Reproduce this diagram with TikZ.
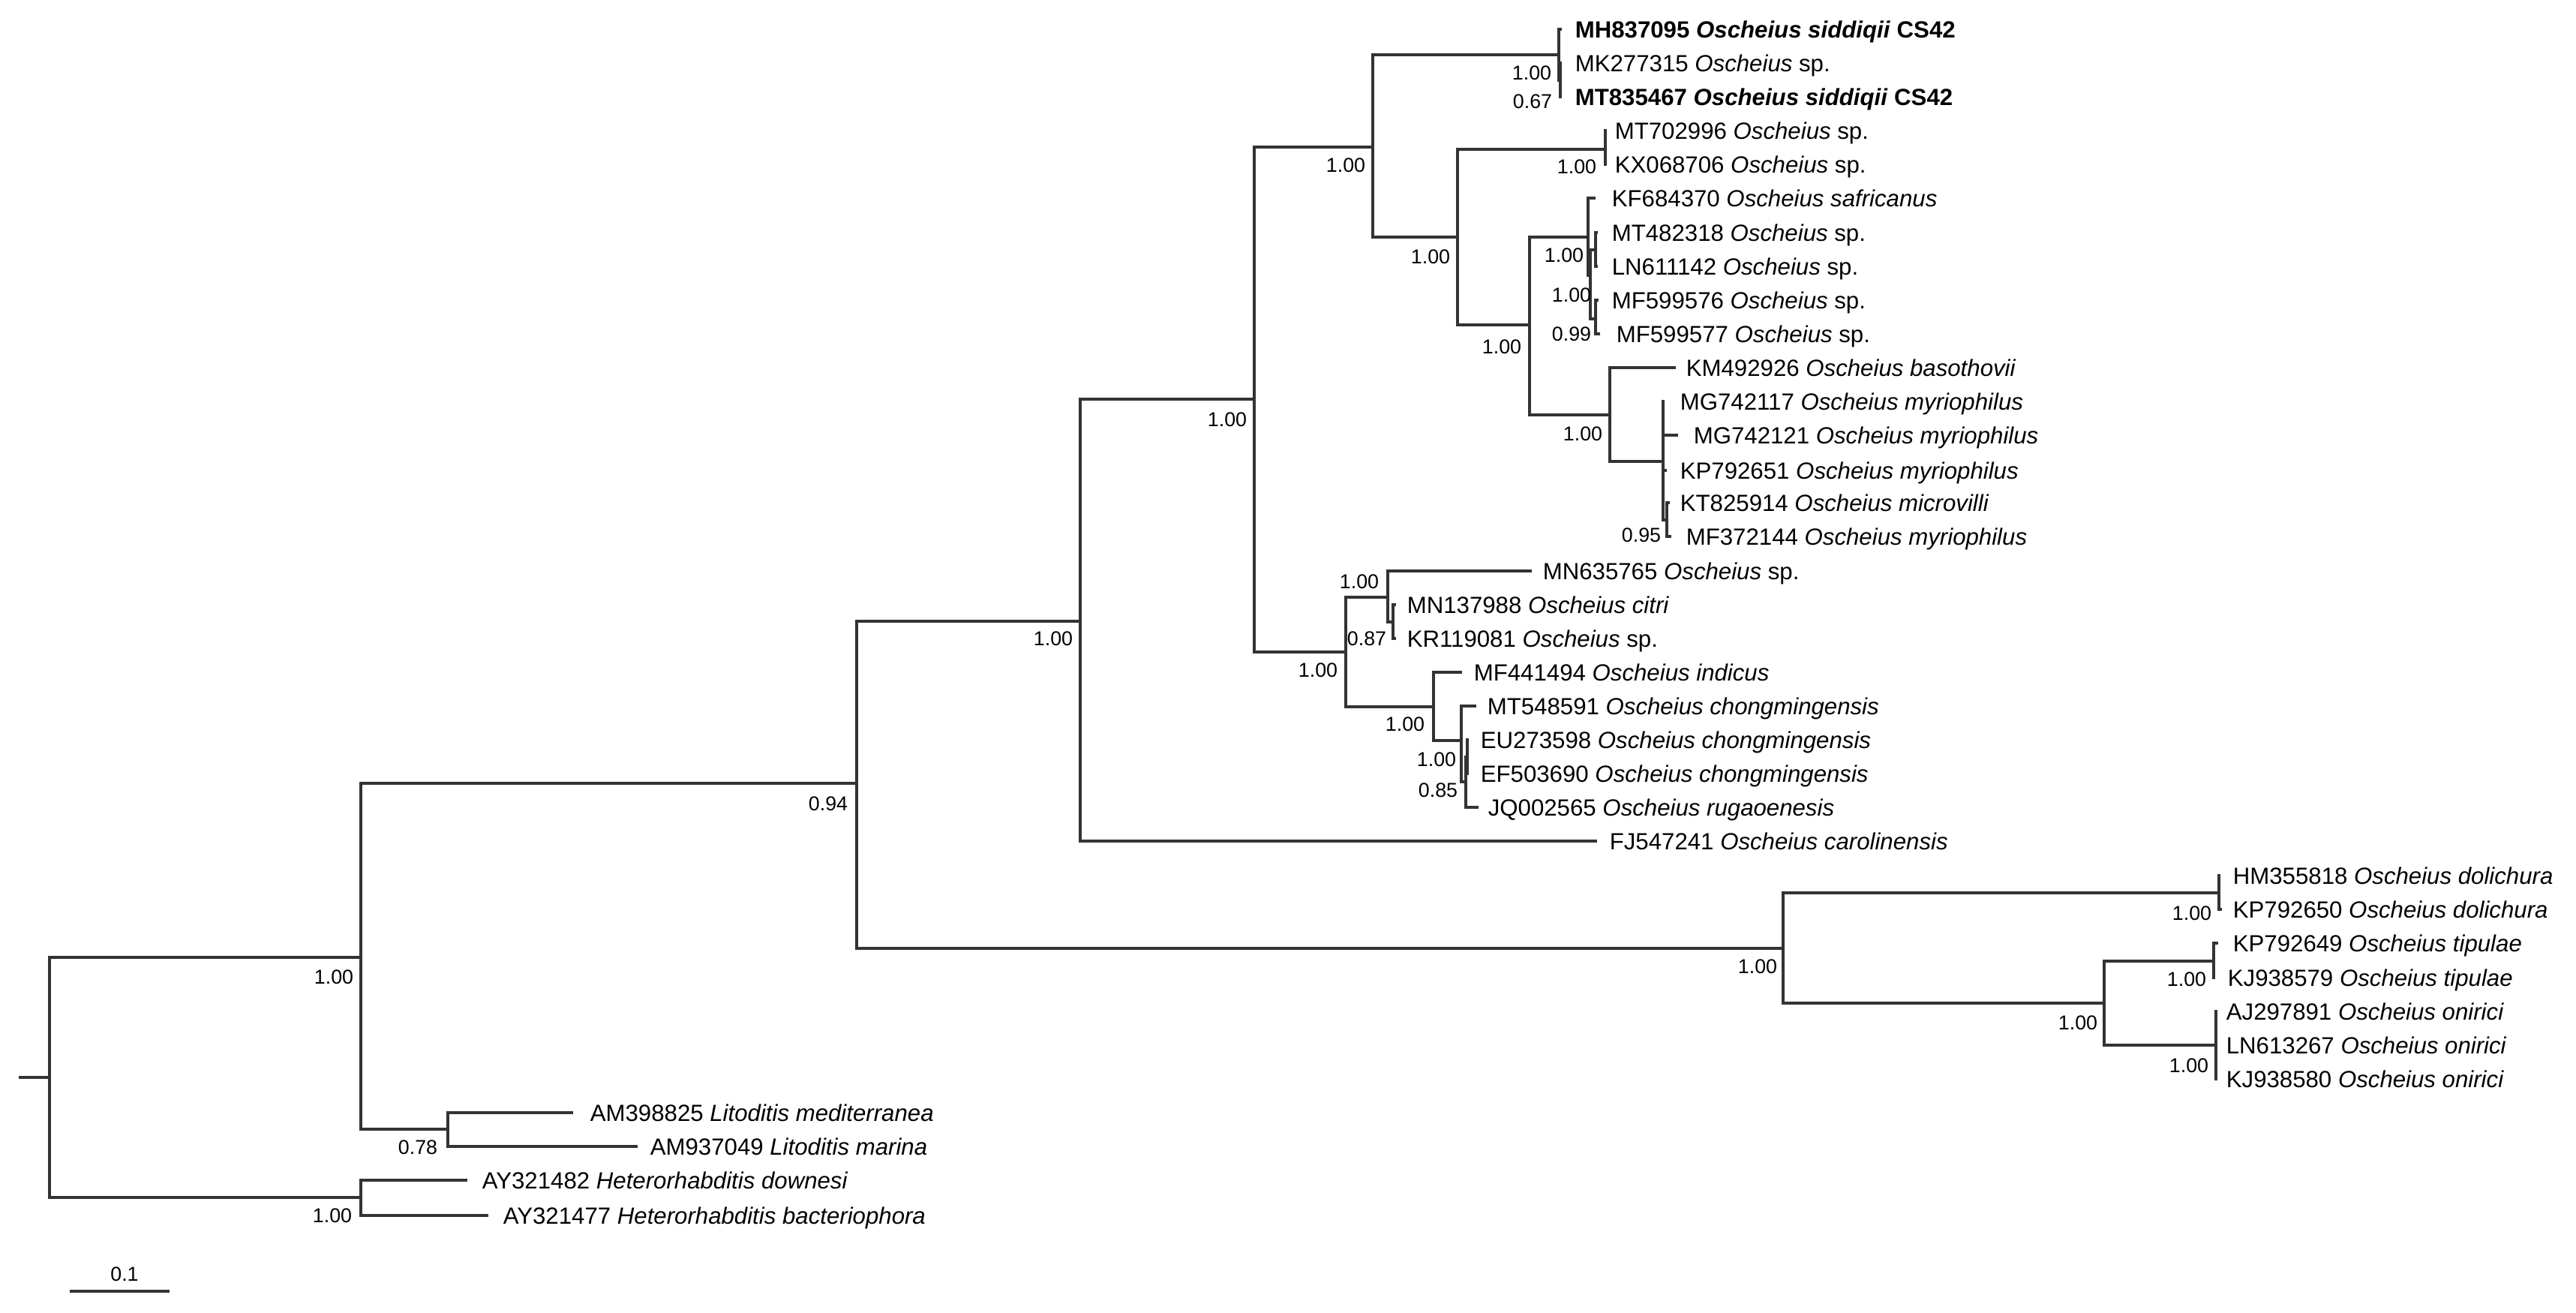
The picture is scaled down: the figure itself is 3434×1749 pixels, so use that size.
\documentclass[tikz,border=0pt]{standalone}
\usepackage{fontspec}
\setmainfont{Liberation Sans}
\begin{document}
\begin{tikzpicture}[x=0.25pt,y=-0.25pt,
  br/.style={line width=0.8pt,draw=black!80},
  lf/.style={anchor=base west,inner sep=0pt,yshift=-2.8pt,font=\fontsize{7.8}{9}\selectfont},
  sp/.style={inner sep=0pt,font=\fontsize{6.7}{8}\selectfont}]
\useasboundingbox (0,0) rectangle (3434,1749);
\newcommand{\lv}[5]{\coordinate (#1) at (#2,#3); \node[lf] (#1t) at (#4,#3) {#5};}
\newcommand{\Os}{\textit{Oscheius}}
% internal nodes
\coordinate (stub) at (25,1436); \coordinate (root) at (66,1436);
\coordinate (A2) at (481,1276); \coordinate (Het) at (481,1596); \coordinate (Lito) at (597,1505);
\coordinate (B) at (1142,1044); \coordinate (C) at (1440,828); \coordinate (D) at (1672,532);
\coordinate (E) at (1830,196); \coordinate (G) at (2078,73); \coordinate (g2) at (2080,107);
\coordinate (H) at (1943,316); \coordinate (I) at (2140,199); \coordinate (K) at (2039,433);
\coordinate (J) at (2117,316); \coordinate (P) at (2120,367); \coordinate (M) at (2127,333); \coordinate (N) at (2127,425);
\coordinate (L) at (2146,553); \coordinate (Q) at (2217,615); \coordinate (R) at (2222,693);
\coordinate (F) at (1794,869); \coordinate (S) at (1850,796); \coordinate (T) at (1857,829);
\coordinate (U) at (1911,942); \coordinate (V) at (1948,987); \coordinate (W) at (1954,1042); \coordinate (X) at (1956,1009);
\coordinate (Y) at (2377,1264); \coordinate (Z) at (2958,1190); \coordinate (AA) at (2805,1337);
\coordinate (AB) at (2951,1281); \coordinate (AC) at (2954,1393);
% leaves
\lv{l1}{2082}{39}{2099}{\textbf{MH837095 \textit{Oscheius siddiqii} CS42}}
\lv{l2}{2082}{84}{2099}{MK277315 \Os{} sp.}
\lv{l3}{2082}{129}{2099}{\textbf{MT835467 \textit{Oscheius siddiqii} CS42}}
\lv{l4}{2142}{174}{2152}{MT702996 \Os{} sp.}
\lv{l5}{2142}{219}{2152}{KX068706 \Os{} sp.}
\lv{l6}{2127}{264}{2148}{KF684370 \textit{Oscheius safricanus}}
\lv{l7}{2130}{310}{2148}{MT482318 \Os{} sp.}
\lv{l8}{2130}{355}{2148}{LN611142 \Os{} sp.}
\lv{l9}{2131}{400}{2148}{MF599576 \Os{} sp.}
\lv{l10}{2133}{445}{2154}{MF599577 \Os{} sp.}
\lv{l11}{2234}{490}{2247}{KM492926 \textit{Oscheius basothovii}}
\lv{l12}{2219}{535}{2239}{MG742117 \textit{Oscheius myriophilus}}
\lv{l13}{2237}{580}{2257}{MG742121 \textit{Oscheius myriophilus}}
\lv{l14}{2222}{627}{2239}{KP792651 \textit{Oscheius myriophilus}}
\lv{l15}{2226}{670}{2239}{KT825914 \textit{Oscheius microvilli}}
\lv{l16}{2228}{715}{2247}{MF372144 \textit{Oscheius myriophilus}}
\lv{l17}{2042}{761}{2056}{MN635765 \Os{} sp.}
\lv{l18}{1861}{806}{1875}{MN137988 \textit{Oscheius citri}}
\lv{l19}{1861}{851}{1875}{KR119081 \Os{} sp.}
\lv{l20}{1949}{896}{1964}{MF441494 \textit{Oscheius indicus}}
\lv{l21}{1968}{941}{1982}{MT548591 \textit{Oscheius chongmingensis}}
\lv{l22}{1958}{986}{1973}{EU273598 \textit{Oscheius chongmingensis}}
\lv{l23}{1958}{1031}{1973}{EF503690 \textit{Oscheius chongmingensis}}
\lv{l24}{1971}{1076}{1983}{JQ002565 \textit{Oscheius rugaoenesis}}
\lv{l25}{2129}{1121}{2145}{FJ547241 \textit{Oscheius carolinensis}}
\lv{l26}{2960}{1167}{2976}{HM355818 \textit{Oscheius dolichura}}
\lv{l27}{2962}{1212}{2976}{KP792650 \textit{Oscheius dolichura}}
\lv{l28}{2957}{1257}{2976}{KP792649 \textit{Oscheius tipulae}}
\lv{l29}{2953}{1303}{2969}{KJ938579 \textit{Oscheius tipulae}}
\lv{l30}{2956}{1348}{2967}{AJ297891 \textit{Oscheius onirici}}
\lv{l31}{2956}{1393}{2967}{LN613267 \textit{Oscheius onirici}}
\lv{l32}{2956}{1438}{2967}{KJ938580 \textit{Oscheius onirici}}
\lv{l33}{764}{1483}{786}{AM398825 \textit{Litoditis mediterranea}}
\lv{l34}{850}{1528}{866}{AM937049 \textit{Litoditis marina}}
\lv{l35}{623}{1573}{642}{AY321482 \textit{Heterorhabditis downesi}}
\lv{l36}{651}{1620}{670}{AY321477 \textit{Heterorhabditis bacteriophora}}
% branches
\draw[br] (stub) -- (root);
\foreach \p/\c in {root/A2,root/Het,A2/B,A2/Lito,Lito/l33,Lito/l34,Het/l35,Het/l36,
  B/C,B/Y,C/D,C/l25,D/E,D/F,E/G,E/H,G/l1,G/g2,g2/l2,g2/l3,H/I,H/K,I/l4,I/l5,
  K/J,K/L,J/l6,J/P,P/M,P/N,M/l7,M/l8,N/l9,N/l10,L/l11,L/Q,Q/l12,Q/l13,Q/l14,Q/R,R/l15,R/l16,
  F/S,F/U,S/l17,S/T,T/l18,T/l19,U/l20,U/V,V/l21,V/W,W/X,W/l24,X/l22,X/l23,
  Y/Z,Y/AA,Z/l26,Z/l27,AA/AB,AA/AC,AB/l28,AB/l29,AC/l30,AC/l31,AC/l32}
  {\draw[br] (\p) |- (\c);}
% support values
\foreach \x/\y/\t [count=\i] in {2042/97/1.00,2043/135/0.67,1794/220/1.00,1907/342/1.00,2002/462/1.00,
  2102/222/1.00,2085/340/1.00,2095/393/1.00,2095/445/0.99,2110/578/1.00,2188/713/0.95,
  1812/775/1.00,1822/851/0.87,1757/893/1.00,1873/965/1.00,1915/1012/1.00,1917/1053/0.85,
  1636/559/1.00,1404/851/1.00,1104/1071/0.94,2922/1217/1.00,2343/1288/1.00,2770/1363/1.00,
  2915/1305/1.00,2918/1420/1.00,445/1302/1.00,557/1529/0.78,443/1620/1.00}
  {\node[sp] (s\i) at (\x,\y) {\t};}
% scale bar
\coordinate (sb1) at (93,1721); \coordinate (sb2) at (226,1721);
\draw[br] (sb1) -- (sb2);
\node[sp] (sbl) at (166,1698) {0.1};
\end{tikzpicture}
\end{document}
